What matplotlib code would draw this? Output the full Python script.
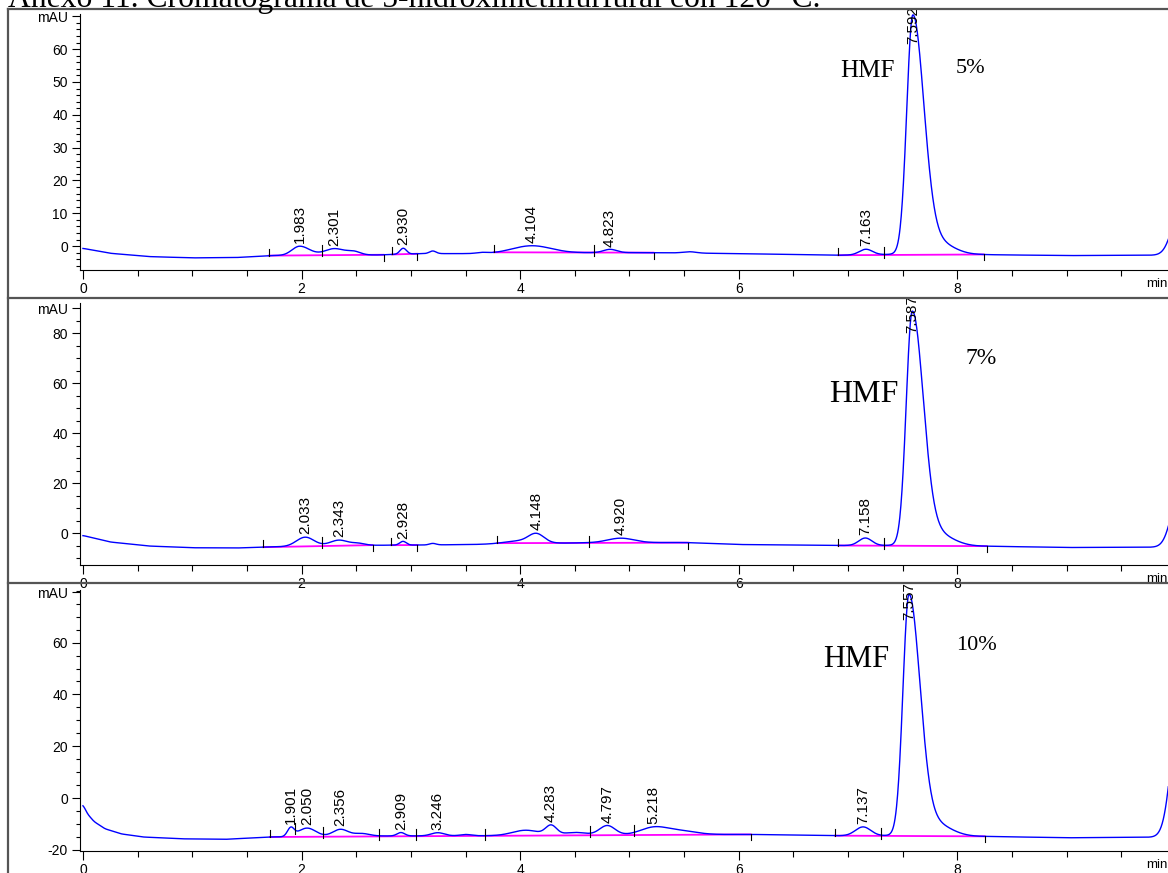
import numpy as np
import matplotlib
matplotlib.use("Agg")
import matplotlib.pyplot as plt
from matplotlib.lines import Line2D
from matplotlib.ticker import MultipleLocator

plt.rcParams["font.family"] = ["Liberation Sans", "DejaVu Sans"]
plt.rcParams["axes.unicode_minus"] = False

TITLE = "Anexo 11. Cromatograma de 5-hidroximetilfurfural con 120 °C."

# ---- 5 % ----
drift5_t = [0.0, 0.25, 0.6, 1.0, 1.4, 1.7, 2.2, 2.7, 3.1, 3.8, 4.7, 5.2, 6.0, 6.9, 7.3, 8.2, 9.0, 9.7, 9.93]
drift5_v = [-0.7, -2.2, -3.2, -3.6, -3.5, -2.9, -2.8, -2.7, -2.3, -2.3, -2.0, -2.0, -2.3, -2.8, -2.6, -2.6, -2.9, -2.8, -2.8]
rt5 = [1.983, 2.301, 2.930, 4.104, 4.823, 7.163, 7.592]
h5 = [2.8, 2.0, 1.8, 2.3, 1.0, 1.7, 71.5]
wl5 = [0.07, 0.09, 0.03, 0.18, 0.06, 0.06, 0.055]
wr5 = [0.09, 0.09, 0.03, 0.18, 0.06, 0.06, 0.10]
minor5_t = [2.48, 3.20, 3.65, 5.55, 7.80, 10.05]
minor5_h = [1.0, 0.8, 0.3, 0.4, 4.0, 15.0]
minor5_w = [0.06, 0.03, 0.05, 0.06, 0.15, 0.08]
seg5 = [(1.70, 2.75), (2.83, 3.06), (3.76, 5.22), (6.91, 8.24)]
mid5 = [2.19, 4.68, 7.33]

# ---- 7 % ----
drift7_t = [0.0, 0.25, 0.6, 1.0, 1.4, 1.7, 2.2, 2.7, 3.1, 3.8, 4.6, 5.5, 6.0, 6.9, 7.3, 8.3, 9.0, 9.7, 9.93]
drift7_v = [-1.0, -3.6, -5.2, -5.9, -6.0, -5.6, -5.1, -4.9, -4.8, -4.5, -3.9, -3.8, -4.6, -5.0, -5.0, -5.3, -5.8, -5.7, -5.7]
rt7 = [2.033, 2.343, 2.928, 4.148, 4.920, 7.158, 7.587]
h7 = [3.6, 2.2, 1.5, 3.4, 1.8, 3.0, 92.0]
wl7 = [0.08, 0.08, 0.03, 0.07, 0.12, 0.06, 0.055]
wr7 = [0.08, 0.08, 0.03, 0.07, 0.12, 0.06, 0.10]
minor7_t = [2.52, 3.20, 4.00, 7.80, 10.05]
minor7_h = [0.8, 0.6, 1.2, 5.0, 26.0]
minor7_w = [0.06, 0.03, 0.15, 0.15, 0.08]
seg7 = [(1.65, 2.65), (2.82, 3.06), (3.79, 5.54), (6.91, 8.27)]
mid7 = [2.19, 4.63, 7.33]

# ---- 10 % ----
drift10_t = [0.0, 0.04, 0.1, 0.2, 0.35, 0.55, 0.9, 1.3, 1.7, 2.7, 3.7, 4.6, 6.1, 6.9, 7.3, 8.3, 9.0, 9.7, 9.93]
drift10_v = [-2.5, -6.0, -9.0, -11.8, -13.8, -15.0, -15.7, -15.9, -15.0, -14.6, -14.5, -14.2, -14.0, -14.5, -14.5, -14.8, -15.3, -15.1, -15.1]
rt10 = [1.901, 2.050, 2.356, 2.909, 3.246, 4.283, 4.797, 5.218, 7.137, 7.557]
h10 = [3.2, 3.3, 2.7, 1.3, 1.2, 3.6, 3.6, 2.6, 3.4, 91.5]
wl10 = [0.03, 0.08, 0.07, 0.035, 0.06, 0.05, 0.07, 0.12, 0.07, 0.055]
wr10 = [0.03, 0.08, 0.07, 0.035, 0.06, 0.05, 0.07, 0.12, 0.07, 0.10]
minor10_t = [2.55, 3.50, 4.05, 4.50, 5.45, 7.78, 10.05]
minor10_h = [1.0, 0.5, 2.0, 1.0, 1.5, 5.0, 60.0]
minor10_w = [0.07, 0.05, 0.12, 0.10, 0.15, 0.15, 0.08]
seg10 = [(1.71, 6.11), (6.88, 8.25)]
mid10 = [1.94, 2.20, 2.71, 3.05, 3.68, 4.64, 5.04, 7.30]

panels = [
    dict(drift=(drift5_t, drift5_v), rt=rt5, h=h5, wl=wl5, wr=wr5,
         minor=(minor5_t, minor5_h, minor5_w), seg=seg5, mid=mid5,
         ylim=(-7.3, 70.7), yt=[0, 10, 20, 30, 40, 50, 60, 70], ymin=2,
         hmf=(6.93, 51.5, 18), pct=("5%", 7.98, 52.7, 16),
         rect=[0.0685, 0.6907, 0.9315, 0.2932]),
    dict(drift=(drift7_t, drift7_v), rt=rt7, h=h7, wl=wl7, wr=wr7,
         minor=(minor7_t, minor7_h, minor7_w), seg=seg7, mid=mid7,
         ylim=(-12.8, 92), yt=[0, 20, 40, 60, 80, 90], ymin=5,
         hmf=(6.83, 52.4, 23), pct=("7%", 8.07, 67.6, 17),
         rect=[0.0685, 0.3528, 0.9315, 0.3001]),
    dict(drift=(drift10_t, drift10_v), rt=rt10, h=h10, wl=wl10, wr=wr10,
         minor=(minor10_t, minor10_h, minor10_w), seg=seg10, mid=mid10,
         ylim=(-20.4, 80.3), yt=[-20, 0, 20, 40, 60, 79.5], ymin=5,
         hmf=(6.77, 50.5, 22), pct=("10%", 7.99, 57.0, 16),
         rect=[0.0685, 0.0252, 0.9315, 0.299]),
]

t = np.linspace(0, 9.93, 3000)


def make_trace(p):
    base = np.interp(t, *p["drift"])
    k = 6
    pad = np.pad(base, k, mode="edge")
    base = np.convolve(pad, np.ones(2 * k + 1) / (2 * k + 1), mode="same")[k:-k]
    y = base.copy()
    for rt, h, sl, sr in zip(p["rt"], p["h"], p["wl"], p["wr"]):
        s = np.where(t < rt, sl, sr)
        y += h * np.exp(-0.5 * ((t - rt) / s) ** 2)
    for rt, h, s in zip(*p["minor"]):
        y += h * np.exp(-0.5 * ((t - rt) / s) ** 2)
    return y


fig = plt.figure(figsize=(11.68, 8.73), dpi=100)
fig.text(8 / 1168, 1 - 6.5 / 873, TITLE, ha="left", va="baseline",
         family="Liberation Serif", fontsize=22.8)

for p in panels:
    ax = fig.add_axes(p["rect"])
    y = make_trace(p)
    ax.plot(t, y, color="#0000ff", lw=1.0, zorder=3)
    ax.set_xlim(-0.027, 9.927)
    ax.set_ylim(*p["ylim"])
    upx = (p["ylim"][1] - p["ylim"][0]) / ax.bbox.height

    # integration baselines and marks
    for a, b in p["seg"]:
        ya, yb = np.interp([a, b], t, y)
        ax.plot([a, b], [ya, yb], color="#ff00ff", lw=1.3, zorder=2)
        ax.plot([a, a], [ya, ya + 7 * upx], color="black", lw=0.8, zorder=4)
        ax.plot([b, b], [yb - 6 * upx, yb], color="black", lw=0.8, zorder=4)
    for m in p["mid"]:
        ym = np.interp(m, t, y)
        ax.plot([m, m], [ym - 4 * upx, ym + 7 * upx], color="black", lw=0.8, zorder=4)

    # retention time labels
    top = p["ylim"][1]
    for rt in p["rt"]:
        apex = np.interp(rt, t, y)
        if apex > 0.7 * top:
            ax.annotate(f"{rt:.3f}", (rt, top), xytext=(0, 6), textcoords="offset points",
                        rotation=90, ha="center", va="top", fontsize=11,
                        annotation_clip=False)
        else:
            ax.annotate(f"{rt:.3f}", (rt, apex), xytext=(0, 2), textcoords="offset points",
                        rotation=90, ha="center", va="bottom", fontsize=11)

    hx, hy, hs = p["hmf"]
    ax.text(hx, hy, "HMF", family="Liberation Serif", fontsize=hs, ha="left", va="baseline")
    ptxt, px, py, ps = p["pct"]
    ax.text(px, py, ptxt, family="Liberation Serif", fontsize=ps, ha="left", va="baseline")

    ax.spines["top"].set_visible(False)
    ax.spines["right"].set_visible(False)
    ax.patch.set_alpha(0)
    ax.set_xticks([0, 2, 4, 6, 8])
    ax.set_xticklabels(["0", "2", "4", "6", "8"])
    ax.xaxis.set_minor_locator(MultipleLocator(0.5))
    ax.set_yticks(p["yt"])
    ax.set_yticklabels([f"{v:g}" for v in p["yt"][:-1]] + ["mAU"])
    ax.yaxis.set_minor_locator(MultipleLocator(p["ymin"]))
    ax.tick_params(axis="x", which="major", length=6.5, width=0.8, pad=2, labelsize=10)
    ax.tick_params(axis="x", which="minor", length=4.3, width=0.8)
    ax.tick_params(axis="y", which="major", length=5.8, width=0.8, pad=3, labelsize=10)
    ax.tick_params(axis="y", which="minor", length=2.9, width=0.8)
    ax.text(1.0, -0.03, "min", transform=ax.transAxes, ha="right", va="top", fontsize=9.5)

# outer frame lines
frame = dict(color="#555555", lw=1.6, transform=fig.transFigure)
fig.add_artist(Line2D([8 / 1168, 8 / 1168], [0, 1 - 9 / 873], **frame))
for yp in [9, 298, 583]:
    fig.add_artist(Line2D([8 / 1168, 1], [1 - yp / 873] * 2, **frame))

fig.savefig("out.png", dpi=100)
